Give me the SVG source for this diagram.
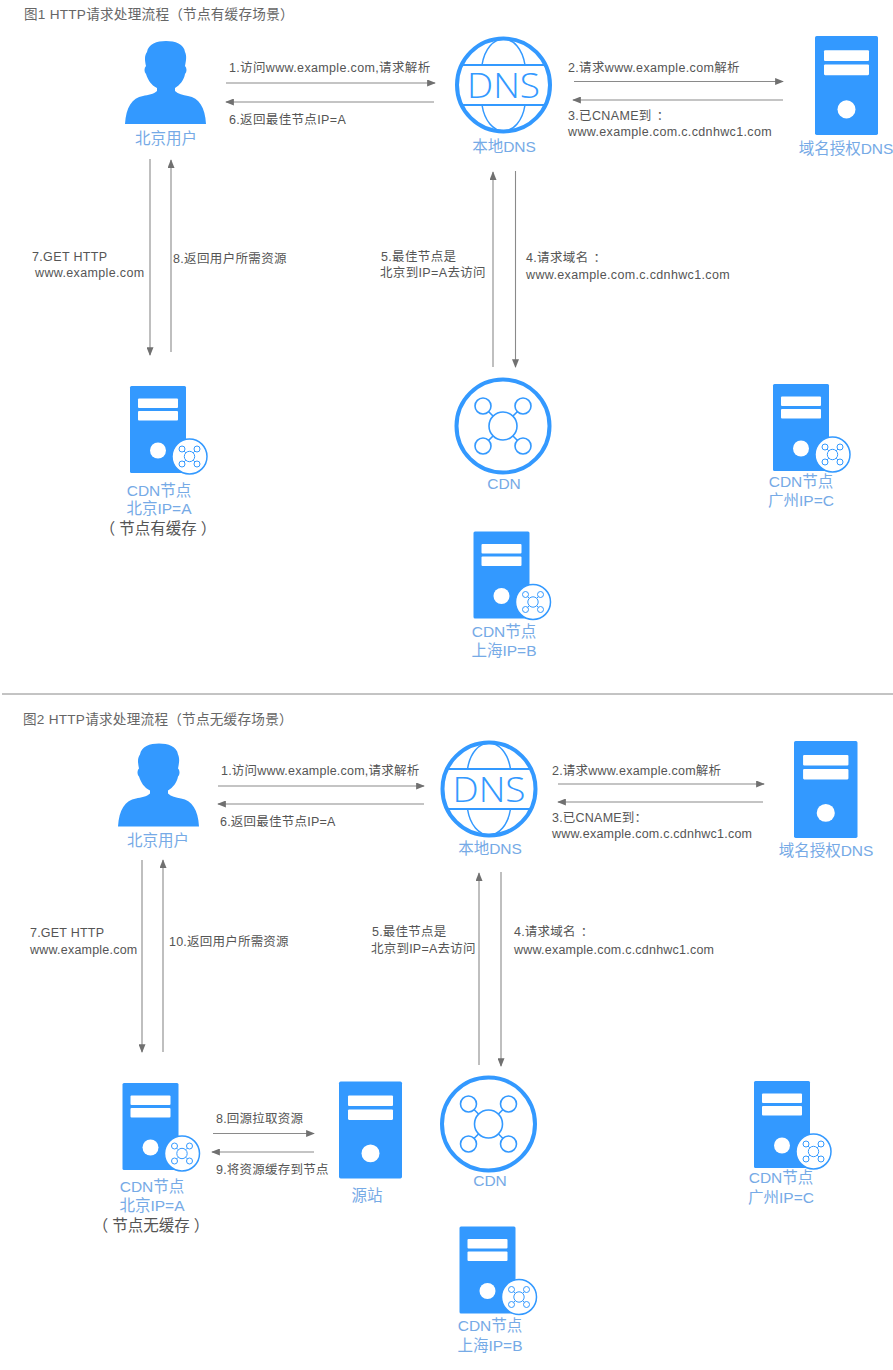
<svg xmlns="http://www.w3.org/2000/svg" width="893" height="1370" viewBox="0 0 893 1370">
<style>
text{font-family:"Liberation Sans","Noto Sans CJK SC",sans-serif}
.t{font-size:12.5px;fill:#555;letter-spacing:.35px}
.u{font-size:12.5px;fill:#555;letter-spacing:.22px}
.h{font-size:13.6px;fill:#666;letter-spacing:.25px}
.l{font-size:15.5px;fill:#76aae6;text-anchor:middle}
.k{font-size:15.5px;fill:#555;text-anchor:middle}
.c{fill:none;stroke:#8a8a8a;stroke-width:1.1}
.b{fill:#3399ff}
.o{fill:none;stroke:#3399ff}
</style>
<defs>
<marker id="a" viewBox="0 0 10 8" refX="9" refY="4" markerUnits="userSpaceOnUse" markerWidth="9" markerHeight="7" orient="auto"><path d="M0 0L10 4L0 8Z" fill="#707070"/></marker>
<g id="user"><path class="b" d="M41 0C50 0 59 3 60 11C62 15 61 20 60 25C62 27 62 31 60 33C59 39 55 44 50 47L50 50C53 53 58 54 63 55C74 57 80 66 81 83L0 83C1 66 7 57 18 55C23 54 29 53 32 50L32 47C26 44 23 39 21 33C19 31 19 27 21 25C20 20 19 15 22 11C23 3 32 0 41 0Z"/></g>
<g id="srv"><rect class="b" width="56" height="87" rx="1.500"/><rect x="8" y="12.500" width="40" height="9.500" rx="1" fill="#fff"/><rect x="8" y="25" width="40" height="9.500" rx="1" fill="#fff"/><circle cx="28" cy="64.500" r="8" fill="#fff"/></g>
<g id="net"><circle class="o" r="14" stroke-width="1.600"/><circle class="o" cx="-20" cy="-20" r="8" stroke-width="1.600"/><circle class="o" cx="20" cy="-20" r="8" stroke-width="1.600"/><circle class="o" cx="-20" cy="20" r="8" stroke-width="1.600"/><circle class="o" cx="20" cy="20" r="8" stroke-width="1.600"/><path class="o" stroke-width="1.600" d="M-14.500 -14.500L-10 -10M14.500 -14.500L10 -10M-14.500 14.500L-10 10M14.500 14.500L10 10"/></g>
<g id="badge"><circle r="17.500" fill="#fff" stroke="#3399ff" stroke-width="1.500"/><g class="o" stroke-width="1"><circle r="5.200"/><circle cx="-7.500" cy="-7.500" r="3"/><circle cx="7.500" cy="-7.500" r="3"/><circle cx="-7.500" cy="7.500" r="3"/><circle cx="7.500" cy="7.500" r="3"/><path d="M-5.400 -5.400L-3.700 -3.700M5.400 -5.400L3.700 -3.700M-5.400 5.400L-3.700 3.700M5.400 5.400L3.700 3.700"/></g></g>
<g id="node"><use href="#srv"/><use href="#badge" x="59.500" y="70.500"/></g>
<g id="cdn"><circle class="o" r="46.500" stroke-width="4" fill="#fff"/><use href="#net"/></g>
<g id="dns"><circle class="o" r="46.500" stroke-width="4"/><path class="o" stroke-width="2" d="M-41 -20H41M-41 20H41"/><path class="o" stroke-width="1.500" d="M-21.500 -20C-19 -36 -10 -46 0 -46C10 -46 19 -36 21.500 -20M-21.500 20C-19 36 -10 46 0 46C10 46 19 36 21.500 20"/><text x="0" y="12.500" text-anchor="middle" font-size="35" textLength="73" lengthAdjust="spacingAndGlyphs" fill="#3399ff" style="font-family:'Open Sans','Liberation Sans',sans-serif;font-weight:300">DNS</text></g>
</defs>
<rect width="893" height="1370" fill="#fff"/>
<path d="M2 694H893" stroke="#888" fill="none"/>
<text class="h" x="24" y="19">图1 HTTP请求处理流程（节点有缓存场景）</text>
<text class="h" x="23" y="724">图2 HTTP请求处理流程（节点无缓存场景）</text>

<g id="connectors">
<path class="c" marker-end="url(#a)" d="M226 83H435"/>
<path class="c" marker-end="url(#a)" d="M434 102H226"/>
<path class="c" marker-end="url(#a)" d="M574 81.500H783"/>
<path class="c" marker-end="url(#a)" d="M783 100H573"/>
<path class="c" marker-end="url(#a)" d="M150 159V355"/>
<path class="c" marker-end="url(#a)" d="M171 352V160"/>
<path class="c" marker-end="url(#a)" d="M493 367V172"/>
<path class="c" marker-end="url(#a)" d="M515.500 171V367"/>
<path class="c" marker-end="url(#a)" d="M218 786H424"/>
<path class="c" marker-end="url(#a)" d="M424 804H218"/>
<path class="c" marker-end="url(#a)" d="M558 784H764"/>
<path class="c" marker-end="url(#a)" d="M763 802H558"/>
<path class="c" marker-end="url(#a)" d="M142 860V1052"/>
<path class="c" marker-end="url(#a)" d="M163 1052V860"/>
<path class="c" marker-end="url(#a)" d="M479 1065V873"/>
<path class="c" marker-end="url(#a)" d="M501 872V1066"/>
<path class="c" marker-end="url(#a)" d="M213 1133.500H314"/>
<path class="c" marker-end="url(#a)" d="M314 1152H212"/>
<text class="t" x="229" y="72">1.访问www.example.com,请求解析</text>
<text class="t" x="229" y="124">6.返回最佳节点IP=A</text>
<text class="t" x="568" y="72">2.请求www.example.com解析</text>
<text class="t" x="568" y="120">3.已CNAME到<tspan dx="5">：</tspan></text>
<text class="t" x="568" y="136">www.example.com.c.cdnhwc1.com</text>
<text class="t" x="32" y="261">7.GET HTTP</text>
<text class="t" x="35" y="277">www.example.com</text>
<text class="t" x="173" y="263">8.返回用户所需资源</text>
<text class="t" x="381" y="261">5.最佳节点是</text>
<text class="t" x="380" y="277">北京到IP=A去访问</text>
<text class="t" x="526" y="262">4.请求域名<tspan dx="5">：</tspan></text>
<text class="t" x="526" y="279">www.example.com.c.cdnhwc1.com</text>
<text class="u" x="221" y="775">1.访问www.example.com,请求解析</text>
<text class="u" x="220" y="826">6.返回最佳节点IP=A</text>
<text class="u" x="552" y="775">2.请求www.example.com解析</text>
<text class="u" x="552" y="822">3.已CNAME到：</text>
<text class="u" x="552" y="838">www.example.com.c.cdnhwc1.com</text>
<text class="u" x="30" y="937">7.GET HTTP</text>
<text class="u" x="30" y="954">www.example.com</text>
<text class="u" x="169" y="946">10.返回用户所需资源</text>
<text class="u" x="372" y="936">5.最佳节点是</text>
<text class="u" x="371" y="953">北京到IP=A去访问</text>
<text class="u" x="514" y="936">4.请求域名<tspan dx="5">：</tspan></text>
<text class="u" x="514" y="954">www.example.com.c.cdnhwc1.com</text>
<text class="u" x="216" y="1123">8.回源拉取资源</text>
<text class="u" x="216" y="1174">9.将资源缓存到节点</text>
</g>

<g id="f1-user"><use href="#user" x="125" y="41"/><text class="l" x="166" y="144">北京用户</text></g>
<g id="f1-dns"><use href="#dns" x="503.500" y="85"/><text class="l" x="504" y="152">本地DNS</text></g>
<g id="f1-auth"><use href="#srv" transform="translate(815 36) scale(1.125 1.138)"/><text class="l" x="846" y="154">域名授权DNS</text></g>
<g id="f1-a"><use href="#node" x="130" y="386"/><text class="l" x="159" y="496">CDN节点</text><text class="l" x="159" y="514">北京IP=A</text><text class="k" x="158" y="534" dx="0 4 0 0 0 0 4">（节点有缓存）</text></g>
<g id="f1-cdn"><use href="#cdn" x="503" y="426"/><text class="l" x="504" y="489">CDN</text></g>
<g id="f1-c"><use href="#node" x="773" y="384"/><text class="l" x="801" y="487">CDN节点</text><text class="l" x="801" y="506">广州IP=C</text></g>
<g id="f1-b"><use href="#node" x="473.500" y="531.500"/><text class="l" x="504" y="637">CDN节点</text><text class="l" x="504" y="656">上海IP=B</text></g>

<g id="f2-user"><use href="#user" x="118" y="743.500"/><text class="l" x="158" y="846">北京用户</text></g>
<g id="f2-dns"><use href="#dns" x="489" y="789"/><text class="l" x="490" y="854">本地DNS</text></g>
<g id="f2-auth"><use href="#srv" transform="translate(794 741) scale(1.134 1.115)"/><text class="l" x="826" y="856">域名授权DNS</text></g>
<g id="f2-a"><use href="#node" x="122.500" y="1083"/><text class="l" x="152" y="1192">CDN节点</text><text class="l" x="152" y="1211">北京IP=A</text><text class="k" x="151" y="1231" dx="0 4 0 0 0 0 4">（节点无缓存）</text></g>
<g id="f2-src"><use href="#srv" transform="translate(339 1081.500) scale(1.125 1.115)"/><text class="l" x="367" y="1201">源站</text></g>
<g id="f2-cdn"><use href="#cdn" x="488.500" y="1124"/><text class="l" x="490" y="1186">CDN</text></g>
<g id="f2-c"><use href="#node" x="754" y="1081"/><text class="l" x="781" y="1183">CDN节点</text><text class="l" x="781" y="1203">广州IP=C</text></g>
<g id="f2-b"><use href="#node" x="459.500" y="1226.500"/><text class="l" x="490" y="1331">CDN节点</text><text class="l" x="490" y="1351">上海IP=B</text></g>
</svg>
